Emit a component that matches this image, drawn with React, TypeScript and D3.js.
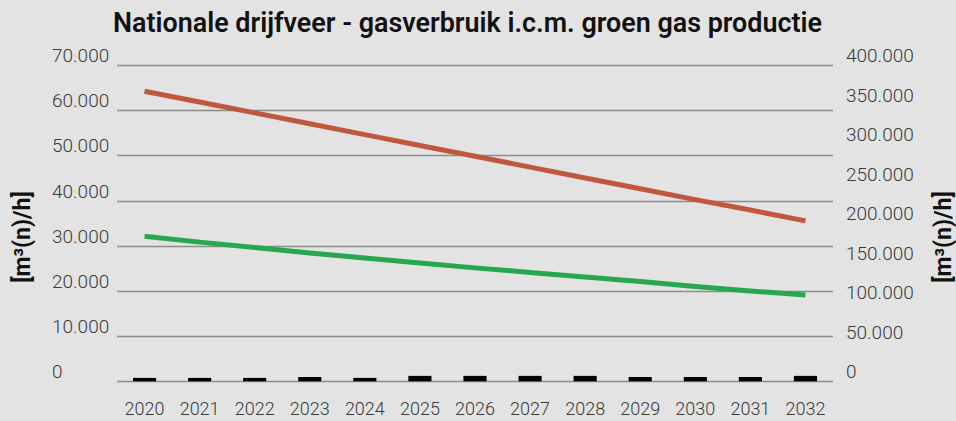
import React, { useEffect, useRef } from "react";
import * as d3 from "d3";

// categories and series
const years = ["2020", "2021", "2022", "2023", "2024", "2025", "2026", "2027", "2028", "2029", "2030", "2031", "2032"];
const gasverbruik = [64200, 61800, 59400, 57000, 54600, 52200, 49800, 47400, 45000, 42600, 40200, 37900, 35500];
const groenGasLijn = [32100, 30800, 29600, 28400, 27300, 26200, 25100, 24100, 23100, 22100, 21000, 20000, 19100];
const groenGasBalk = [750, 750, 750, 950, 750, 1200, 1200, 1200, 1200, 950, 950, 950, 1200];
const leftTicks = [0, 10000, 20000, 30000, 40000, 50000, 60000, 70000];
const rightTicks = [0, 50000, 100000, 150000, 200000, 250000, 300000, 350000, 400000];

const W = 956, H = 421;
const fmt = (v: number) => d3.format(",")(v).replace(/,/g, ".");

export default function App() {
  const ref = useRef<SVGSVGElement>(null);

  useEffect(() => {
    const svg = d3.select(ref.current);
    svg.selectAll("*").remove();

    const margin = { left: 117, right: 123, top: 65, bottom: 39 };
    const h = H - margin.bottom;

    svg.append("rect").attr("width", W).attr("height", H).attr("fill", "#e3e3e3");

    const x = d3.scaleBand().domain(years).range([margin.left, W - margin.right]).paddingInner(0.58).paddingOuter(0.29);
    const yL = d3.scaleLinear().domain([0, 70000]).range([h - 0.7, margin.top]);
    const yR = d3.scaleLinear().domain([0, 400000]).range([h - 0.7, margin.top]);

    // grid lines
    svg.selectAll(".grid")
      .data(leftTicks)
      .join("line")
      .attr("class", "grid")
      .attr("x1", margin.left)
      .attr("x2", W - margin.right)
      .attr("y1", (d) => Math.round(yL(d)) + 0.5)
      .attr("y2", (d) => Math.round(yL(d)) + 0.5)
      .attr("stroke", "#8c8c8c")
      .attr("stroke-width", 1.3);

    const font = "Roboto, 'DejaVu Sans', sans-serif";

    // left axis labels
    svg.selectAll(".ylab")
      .data(leftTicks)
      .join("text")
      .attr("class", "ylab")
      .attr("x", 52)
      .attr("y", (d) => yL(d) - 3)
      .attr("font-family", font)
      .attr("font-weight", 300)
      .attr("font-size", 19)
      .attr("fill", "#3a3a3a")
      .text((d) => fmt(d));

    // right axis labels
    svg.selectAll(".yrlab")
      .data(rightTicks)
      .join("text")
      .attr("class", "yrlab")
      .attr("x", 846)
      .attr("y", (d) => yR(d) - 3)
      .attr("font-family", font)
      .attr("font-weight", 300)
      .attr("font-size", 19)
      .attr("fill", "#3a3a3a")
      .text((d) => fmt(d));

    // x labels
    svg.selectAll(".xlab")
      .data(years)
      .join("text")
      .attr("class", "xlab")
      .attr("x", (d) => x(d)! + x.bandwidth() / 2)
      .attr("y", 415)
      .attr("text-anchor", "middle")
      .attr("font-family", font)
      .attr("font-weight", 300)
      .attr("font-size", 18)
      .attr("fill", "#3a3a3a")
      .text((d) => d);

    // bars
    svg.selectAll(".bar")
      .data(years)
      .join("rect")
      .attr("class", "bar")
      .attr("x", (d) => x(d)!)
      .attr("width", x.bandwidth())
      .attr("y", (d, i) => yL(groenGasBalk[i]))
      .attr("height", (d, i) => yL(0) - yL(groenGasBalk[i]))
      .attr("fill", "#000");

    const line = d3.line<number>()
      .x((d, i) => x(years[i])! + x.bandwidth() / 2)
      .y((d) => yL(d));

    svg.append("path").datum(gasverbruik).attr("d", line)
      .attr("fill", "none").attr("stroke", "#c0583f").attr("stroke-width", 5);
    svg.append("path").datum(groenGasLijn).attr("d", line)
      .attr("fill", "none").attr("stroke", "#27a84f").attr("stroke-width", 5);

    // title
    svg.append("text")
      .attr("x", 113)
      .attr("y", 32)
      .attr("textLength", 709)
      .attr("lengthAdjust", "spacingAndGlyphs")
      .attr("font-family", font)
      .attr("font-weight", 600)
      .attr("font-size", 27)
      .attr("fill", "#111")
      .text("Nationale drijfveer - gasverbruik i.c.m. groen gas productie");

    // axis titles
    [22, 943].forEach((cx) => {
      svg.append("text")
        .attr("transform", `translate(${cx + 8},237) rotate(-90)`)
        .attr("text-anchor", "middle")
        .attr("font-family", font)
        .attr("font-weight", 700)
        .attr("font-size", 23)
        .attr("fill", "#111")
        .text("[m³(n)/h]");
    });
  }, []);

  return (
    <svg ref={ref} width={W} height={H} style={{ position: "absolute", left: 0, top: 0 }} />
  );
}
